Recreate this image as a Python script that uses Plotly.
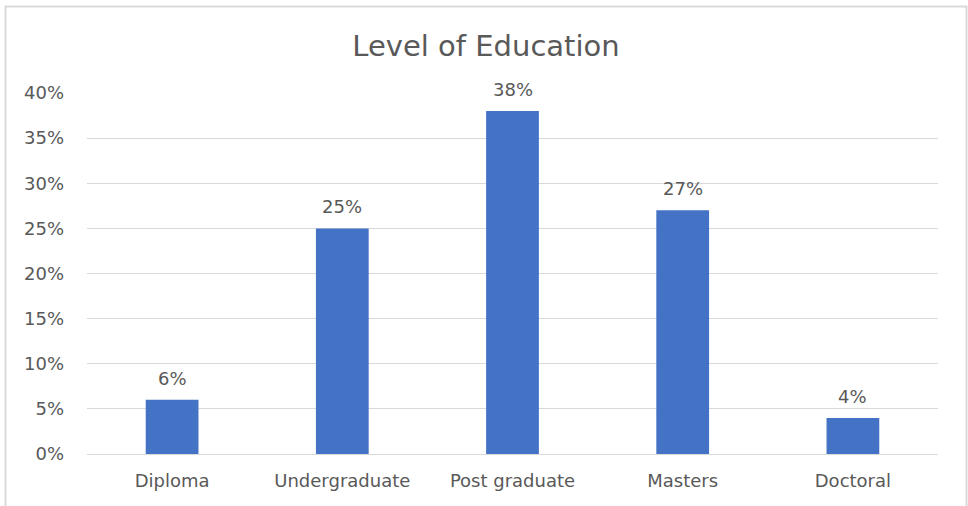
import plotly.graph_objects as go

categories = ["Diploma", "Undergraduate", "Post graduate", "Masters", "Doctoral"]
values = [0.06, 0.25, 0.38, 0.27, 0.04]
tick_vals = [0, 0.05, 0.10, 0.15, 0.20, 0.25, 0.30, 0.35, 0.40]
tick_text = ["0%", "5%", "10%", "15%", "20%", "25%", "30%", "35%", "40%"]

L, R, T, B = 87, 30, 93, 52
W, H = 968, 506
pw, ph = W - L - R, H - T - B
FONT = "DejaVu Sans"
GREY = "#595959"

fig = go.Figure(go.Bar(
    x=categories, y=values,
    marker=dict(color="#4472C4", line=dict(width=0)),
    width=0.31,
))

for c, v in zip(categories, values):
    fig.add_annotation(x=c, y=v, text=f"{round(v*100)}%", showarrow=False,
                       yanchor="bottom", yshift=9,
                       font=dict(family=FONT, size=18, color=GREY))

def px_x(x):
    return (x - L) / pw

def px_y(y):
    return (H - B - y) / ph

fig.update_layout(
    width=W, height=H,
    margin=dict(l=L, r=R, t=T, b=B),
    paper_bgcolor="white", plot_bgcolor="white",
    title=dict(text="Level of Education", x=(486) / W, xanchor="center",
               y=1 - 46 / H, yanchor="middle",
               font=dict(family=FONT, size=29, color=GREY)),
    font=dict(family=FONT, size=18, color=GREY),
    showlegend=False,
    xaxis=dict(showgrid=False, showline=False, ticks="", ticklabelstandoff=14,
               tickfont=dict(family=FONT, size=18, color=GREY)),
    yaxis=dict(range=[0, 0.40], tickvals=tick_vals, ticktext=tick_text,
               showgrid=True, gridcolor="#D9D9D9", gridwidth=1,
               zeroline=True, zerolinecolor="#D9D9D9", zerolinewidth=1,
               showline=False, ticks="", ticklabelstandoff=22,
               tickfont=dict(family=FONT, size=18, color=GREY)),
    shapes=[dict(type="rect", xref="paper", yref="paper",
                 x0=px_x(5.5), x1=px_x(966.5), y0=px_y(520), y1=px_y(6.5),
                 line=dict(color="#D9D9D9", width=2), fillcolor="rgba(0,0,0,0)",
                 layer="below")],
)

fig.write_html("out.html")
